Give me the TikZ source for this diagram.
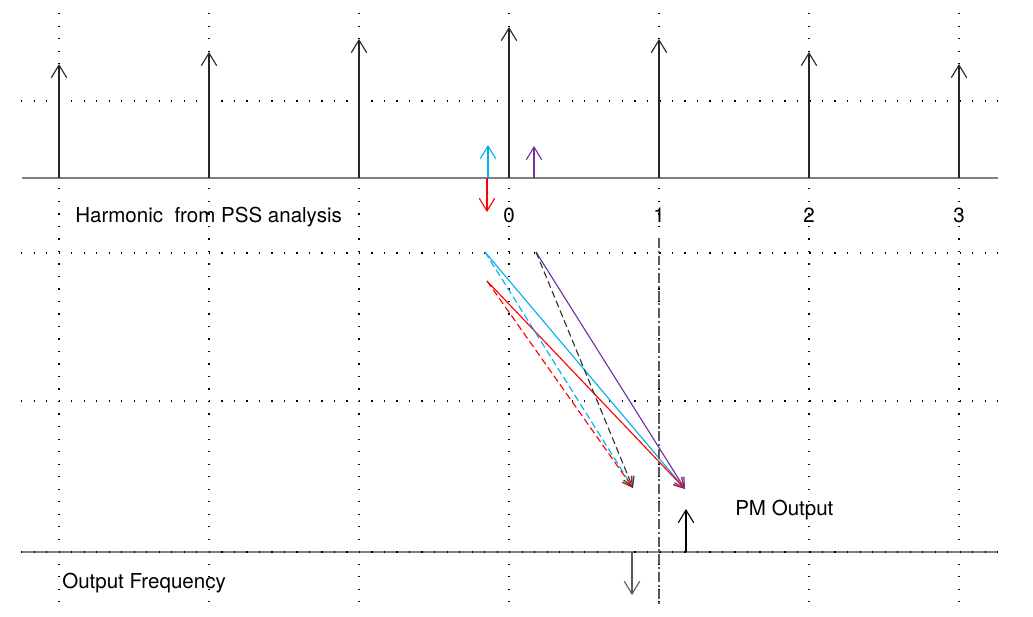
\documentclass[tikz,border=0pt]{standalone}
\usepackage{fontspec}
\setmainfont{TeX Gyre Heros}
\usetikzlibrary{arrows.meta}
\definecolor{skyline}{RGB}{0,176,240}
\definecolor{violetline}{RGB}{112,48,160}
\definecolor{axisgray}{RGB}{128,128,128}

\begin{document}
\begin{tikzpicture}[x=0.025cm, y=-0.025cm,
    grid/.style={black, line width=0.9pt, dash pattern=on 0.9pt off 8pt},
    axis/.style={axisgray, line width=2pt},
    impulse/.style={-{Straight Barb[length=9pt,width=11pt]}, line width=0.8pt},
    slant/.style={-{Straight Barb[length=7pt,width=8pt]}, line width=0.8pt},
    longdash/.style={dash pattern=on 5pt off 2.5pt},
    lbl/.style={font=\fontsize{14.6}{17}\selectfont, inner sep=0pt}]

    \useasboundingbox (0,0) rectangle (1033,617);

    % Grid
    \foreach \x in {59,209,...,959}
        \draw[grid] (\x,13) -- (\x,602);
    \foreach \y in {101,253,401}
        \draw[grid] (21,\y) -- (1009,\y);

    % Axes
    \draw[axis] (22,178) -- (998,178);
    \draw[axis] (21,552) -- (997,552);
    \draw[grid] (21,552) -- (1009,552);

    % Harmonics
    \foreach \x/\h in {59/64, 209/52, 359/39, 509/27, 659/39, 809/52, 959/64}
        \draw[impulse, black!85] (\x,178) -- (\x,\h);

    % Small sidebands near zero
    \draw[impulse, skyline] (488,178) -- (488,145);
    \draw[impulse, red] (487,178) -- (487,212);
    \draw[impulse, violetline] (534,178) -- (534,146);

    % Labels on the harmonic axis
    \node[lbl, anchor=base west] (harm) at (75,223) {Harmonic \ from PSS analysis};
    \foreach \x/\lab in {509/0, 659/1, 809/2, 959/3}
        \node[lbl, anchor=base] (tick\lab) at (\x,223) {\lab};

    % Mapping to output frequency
    \coordinate (cyA) at (485,252);
    \coordinate (rdA) at (487,281);
    \coordinate (vtA) at (536,252);
    \coordinate (outL) at (633,488);
    \coordinate (outR) at (685,489);

    \draw[slant, skyline] (cyA) -- (outR);
    \draw[slant, red] (rdA) -- (outR);
    \draw[slant, violetline] (vtA) -- (outR);
    \draw[slant, skyline, longdash] (cyA) -- (outL);
    \draw[slant, red, longdash] (rdA) -- (outL);
    \draw[slant, black!80, longdash] (vtA) -- (outL);

    % Output frequency marker
    \draw[axisgray!70!black, line width=1.2pt, dash pattern=on 7pt off 2pt on 1.5pt off 2pt]
        (659,238) -- (659,605);

    \draw[impulse, black] (686,552) -- (686,509);
    \draw[impulse, black!65] (632,552) -- (632,595);

    \node[lbl, anchor=base west] (pm) at (735,515) {PM Output};
    \node[lbl, anchor=base west] (outf) at (62,588) {Output Frequency};
\end{tikzpicture}
\end{document}
